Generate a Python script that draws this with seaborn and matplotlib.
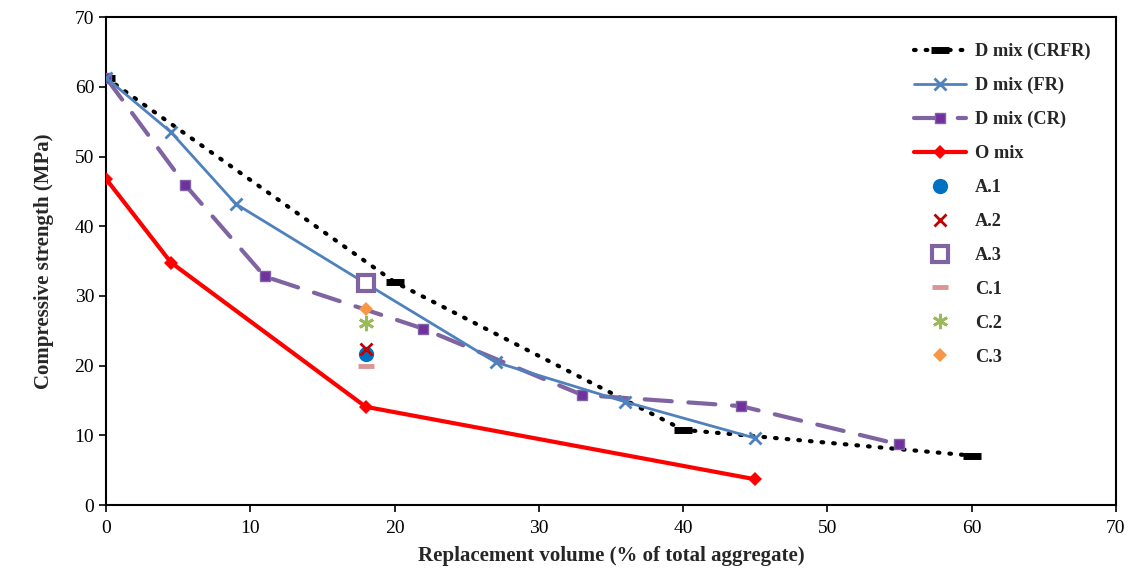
import matplotlib
matplotlib.use('Agg')
import matplotlib.pyplot as plt
import seaborn as sns

# replacement volume (%) and compressive strength (MPa)
crfr_x = [0, 20, 40, 60]
crfr_y = [61.3, 32.0, 10.8, 7.1]
fr_x = [0, 4.5, 9, 18, 27, 36, 45]
fr_y = [61.3, 53.5, 43.2, 31.8, 20.5, 14.8, 9.6]
cr_x = [0, 5.5, 11, 22, 33, 44, 55]
cr_y = [61.3, 45.9, 32.8, 25.3, 15.8, 14.2, 8.7]
o_x = [0, 4.5, 18, 45]
o_y = [46.8, 34.8, 14.1, 3.7]

pt_names = ['A.1', 'A.2', 'A.3', 'C.1', 'C.2', 'C.3']
pt_x = [18, 18, 18, 18, 18, 18]
pt_y = [21.7, 22.4, 31.9, 19.9, 26.1, 28.2]

sns.set_style('white')
plt.rcParams['font.family'] = ['Liberation Serif', 'DejaVu Serif']

fig, ax = plt.subplots(figsize=(11.34, 5.72), dpi=100)
fig.subplots_adjust(left=0.0935, right=0.984, bottom=0.117, top=0.970)

line_styles = [
    (crfr_x, crfr_y, 'D mix (CRFR)',
     dict(color='black', linestyle=(0, (0.4, 2.4)), linewidth=3, dash_capstyle='round',
          marker='_', markersize=13, markeredgewidth=5, markeredgecolor='black', zorder=3)),
    (fr_x, fr_y, 'D mix (FR)',
     dict(color='#4F81BD', linestyle='-', linewidth=2, marker='x', markersize=9,
          markeredgewidth=2, markeredgecolor='#4F81BD', zorder=4)),
    (cr_x, cr_y, 'D mix (CR)',
     dict(color='#8064A2', linestyle=(0, (6.5, 4)), linewidth=3, dash_capstyle='round',
          marker='s', markersize=7, markerfacecolor='#7030A0', markeredgecolor='#8064A2',
          markeredgewidth=1, zorder=3)),
    (o_x, o_y, 'O mix',
     dict(color='#FF0000', linestyle='-', linewidth=3, marker='D', markersize=7,
          markerfacecolor='#FF0000', markeredgecolor='#FF0000', markeredgewidth=0, zorder=5)),
]
for xs, ys, name, st in line_styles:
    sns.lineplot(x=xs, y=ys, ax=ax, label=name)
    ax.lines[-1].set(**st)

pt_styles = {
    'A.1': dict(marker='o', markersize=11, markerfacecolor='#0070C0', markeredgecolor='#0070C0',
                markeredgewidth=0),
    'A.2': dict(marker='x', markersize=9, markerfacecolor='#C00000', markeredgecolor='#C00000',
                markeredgewidth=2),
    'A.3': dict(marker='s', markersize=12, markerfacecolor='white', markeredgecolor='#8064A2',
                markeredgewidth=3),
    'C.1': dict(marker='_', markersize=12, markerfacecolor='#D99694', markeredgecolor='#D99694',
                markeredgewidth=3.5),
    'C.2': dict(marker=(6, 2, 0), markersize=11, markerfacecolor='#9BBB59',
                markeredgecolor='#9BBB59', markeredgewidth=2),
    'C.3': dict(marker='D', markersize=7, markerfacecolor='#F79646', markeredgecolor='#F79646',
                markeredgewidth=0),
}
for name, xv, yv in zip(pt_names, pt_x, pt_y):
    sns.lineplot(x=[xv], y=[yv], ax=ax, label=name)
    ax.lines[-1].set(linestyle='none', zorder=6, **pt_styles[name])

ax.set_xlim(0, 70)
ax.set_ylim(0, 70)
ax.set_xticks(range(0, 71, 10))
ax.set_yticks(range(0, 71, 10))
ax.tick_params(axis='both', direction='out', length=5, width=1.2, labelsize=14,
               bottom=True, left=True, colors='black')
ax.tick_params(axis='x', pad=6)
for sp in ax.spines.values():
    sp.set_color('black')
    sp.set_linewidth(1.5)

ax.set_xlabel('Replacement volume (% of total aggregate)', fontsize=15, fontweight='bold', labelpad=6)
ax.set_ylabel('Compressive strength (MPa)', fontsize=15, fontweight='bold', labelpad=15)

leg = ax.legend(loc='upper right', frameon=False, prop={'weight': 'bold', 'size': 13.2},
                handlelength=2.8, labelspacing=0.92, borderaxespad=1.0, handletextpad=0.5)

fig.savefig('out.png', dpi=100)
